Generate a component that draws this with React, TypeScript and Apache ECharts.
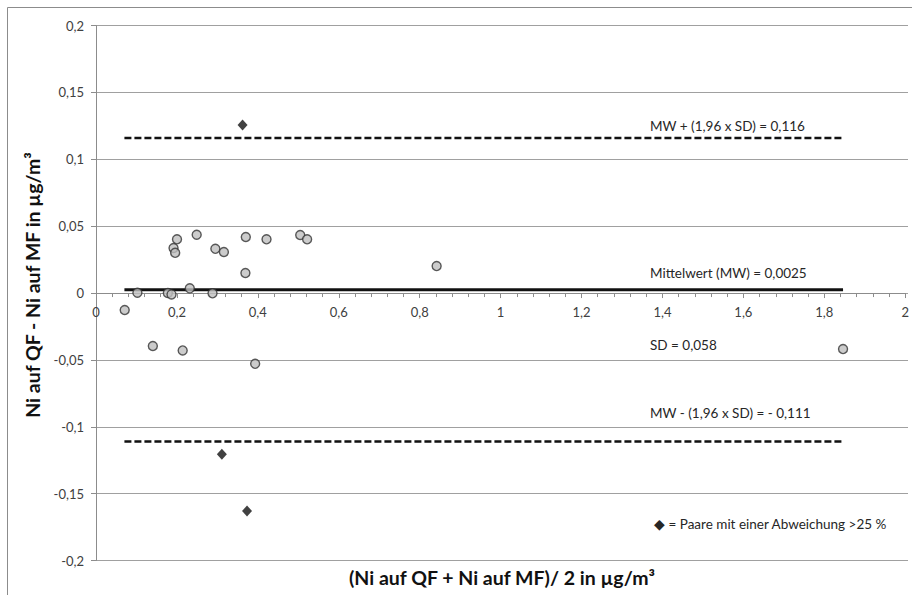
import React, { useEffect, useRef } from "react";
import * as echarts from "echarts";

// Grey circles: all pairs
const circleX = [0.0707, 0.102, 0.140, 0.177, 0.186, 0.191, 0.195, 0.1995, 0.2135, 0.231, 0.248, 0.287, 0.294, 0.315, 0.368, 0.369, 0.420, 0.503, 0.520, 0.839, 0.392, 1.840];
const circleY = [-0.0127, 0.0002, -0.0396, 0.0, -0.001, 0.0337, 0.0301, 0.0402, -0.0429, 0.0035, 0.0436, -0.0002, 0.0331, 0.0307, 0.015, 0.0419, 0.0402, 0.0434, 0.0402, 0.0202, -0.0529, -0.0419];
// Black diamonds: pairs with deviation > 25 %
const diamondX = [0.361, 0.310, 0.372];
const diamondY = [0.1257, -0.1206, -0.163];

const lineStartX = 0.07;
const lineEndX = 1.84;
const meanValue = 0.0025;
const upperLimit = 0.116;
const lowerLimit = -0.111;

const xTitle = "(Ni auf QF + Ni auf MF)/ 2 in µg/m³";
const yTitle = "Ni auf QF - Ni auf MF in µg/m³";
const labelUpper = "MW + (1,96 x SD) = 0,116";
const labelMean = "Mittelwert (MW) = 0,0025";
const labelSD = "SD = 0,058";
const labelLower = "MW - (1,96 x SD) = - 0,111";
const legendText = "◆ = Paare mit einer Abweichung >25 %";

const fmt = (v: number) => String(v).replace(".", ",");

export default function App() {
  const ref = useRef<HTMLDivElement>(null);
  useEffect(() => {
    if (!ref.current) return;
    const chart = echarts.init(ref.current, null, { renderer: "svg" });
    const font = "Lato, 'Open Sans', sans-serif";
    const annStyle = { fill: "#262626", font: `13.5px ${font}` };
    const top = 25.6;
    const bottom = 34.5;
    const plotH = 595 - top - bottom;
    const zeroY = top + plotH / 2;
    chart.setOption({
      animation: false,
      backgroundColor: "#ffffff",
      grid: [
        { left: 96, right: 4, top, bottom, containLabel: false },
        { left: 96, right: 4, top, bottom: 595 - zeroY, containLabel: false },
      ],
      xAxis: [
        {
          type: "value",
          gridIndex: 0,
          min: 0,
          max: 2,
          interval: 0.2,
          show: false,
        },
        {
          type: "value",
          gridIndex: 1,
          min: 0,
          max: 2,
          interval: 0.2,
          axisLine: { show: true, onZero: false, lineStyle: { color: "#8c8c8c", width: 1 } },
          axisTick: { show: true, length: 5, lineStyle: { color: "#8c8c8c" } },
          minorTick: { show: true, splitNumber: 5, length: 4, lineStyle: { color: "#8c8c8c" } },
          axisLabel: { color: "#404040", fontSize: 13, fontFamily: font, margin: 12, formatter: fmt },
          splitLine: { show: false },
        },
      ],
      yAxis: [
        {
          type: "value",
          gridIndex: 0,
          min: -0.2,
          max: 0.2,
          interval: 0.05,
          axisLine: { show: true, onZero: false, lineStyle: { color: "#8c8c8c", width: 1 } },
          axisTick: { show: true, length: 5, lineStyle: { color: "#8c8c8c" } },
          axisLabel: { color: "#404040", fontSize: 13, fontFamily: font, margin: 12, formatter: fmt },
          splitLine: { show: true, lineStyle: { color: "#a0a0a0", width: 1 } },
        },
        {
          type: "value",
          gridIndex: 1,
          min: 0,
          max: 1,
          show: false,
        },
      ],
      series: [
        {
          type: "line",
          data: [[lineStartX, upperLimit], [lineEndX, upperLimit]],
          symbol: "none",
          lineStyle: { color: "#111", width: 2.5, type: [7, 3] },
          z: 3,
        },
        {
          type: "line",
          data: [[lineStartX, lowerLimit], [lineEndX, lowerLimit]],
          symbol: "none",
          lineStyle: { color: "#111", width: 2.5, type: [7, 3] },
          z: 3,
        },
        {
          type: "line",
          data: [[lineStartX, meanValue], [lineEndX, meanValue]],
          symbol: "none",
          lineStyle: { color: "#111", width: 3 },
          z: 3,
        },
        {
          type: "scatter",
          data: circleX.map((x, i) => [x, circleY[i]]),
          symbol: "circle",
          symbolSize: 9,
          itemStyle: { color: "#bfbfbf", borderColor: "#333", borderWidth: 1.4 },
          z: 5,
        },
        {
          type: "scatter",
          data: diamondX.map((x, i) => [x, diamondY[i]]),
          symbol: "diamond",
          symbolSize: [10, 11],
          itemStyle: { color: "#111" },
          z: 5,
        },
      ],
      graphic: [
        {
          type: "rect",
          shape: { x: 7.5, y: 7.5, width: 1000, height: 1000 },
          style: { fill: "none", stroke: "#8c8c8c", lineWidth: 1 },
          silent: true,
          z: -1,
        },
        { type: "text", x: 650, y: 126, style: { ...annStyle, text: labelUpper, textVerticalAlign: "middle" } },
        { type: "text", x: 650, y: 273, style: { ...annStyle, text: labelMean, textVerticalAlign: "middle" } },
        { type: "text", x: 650, y: 345, style: { ...annStyle, text: labelSD, textVerticalAlign: "middle" } },
        { type: "text", x: 650, y: 413, style: { ...annStyle, text: labelLower, textVerticalAlign: "middle" } },
        { type: "text", x: 654, y: 524, style: { ...annStyle, text: legendText, textVerticalAlign: "middle" } },
        {
          type: "text",
          x: 502,
          y: 577,
          style: { text: xTitle, fill: "#111", font: `bold 19.5px ${font}`, textAlign: "center", textVerticalAlign: "middle" },
        },
        {
          type: "text",
          x: 32,
          y: 285,
          rotation: Math.PI / 2,
          style: { text: yTitle, fill: "#111", font: `bold 19.5px ${font}`, textAlign: "center", textVerticalAlign: "middle" },
        },
      ],
    });
    return () => chart.dispose();
  }, []);
  return (
    <div
      ref={ref}
      style={{ position: "absolute", left: 0, top: 0, width: 912, height: 595 }}
    />
  );
}
